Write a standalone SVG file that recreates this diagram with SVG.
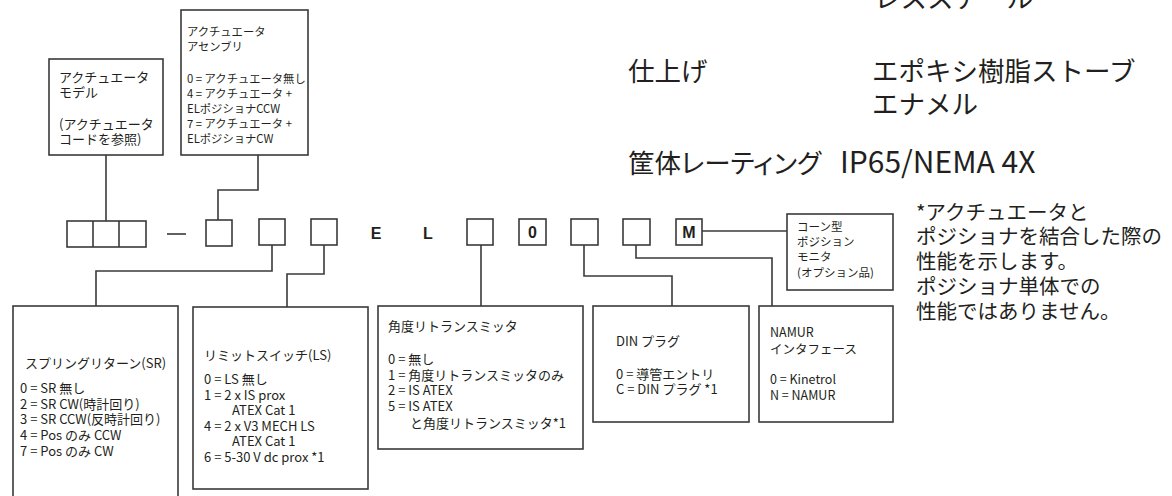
<svg xmlns="http://www.w3.org/2000/svg" width="1172" height="496" viewBox="0 0 1172 496">
<style>
text{font-family:"Noto Sans CJK JP","Liberation Sans",sans-serif;fill:#231f20}
.box{fill:#fff;stroke:#3a3a3a;stroke-width:1.6}
.cb{fill:#fff;stroke:#3a3a3a;stroke-width:1.6}
.ln{fill:none;stroke:#3a3a3a;stroke-width:1.6}
.s13{font-size:13px}
.s12{font-size:12.5px}
.s11{font-size:11.5px}
.sa{font-size:11.3px}
.big{font-size:26.5px}
.palt{font-feature-settings:"palt"}
.note{font-size:20.5px}
.code{font-family:"Liberation Sans",Arial,sans-serif;font-weight:bold;font-size:16px;text-anchor:middle}
</style>
<rect width="1172" height="496" fill="#fff"/>
<g id="connectors">
<path class="ln" d="M106 155V221"/>
<path class="ln" d="M258 155V190H218V220"/>
<path class="ln" d="M272 245V271H96V306"/>
<path class="ln" d="M324 245V274H287V307"/>
<path class="ln" d="M481 245V306"/>
<path class="ln" d="M584 245V276H672V306"/>
<path class="ln" d="M636 245V258H772V306"/>
<path class="ln" d="M702 231H787"/>
<path class="ln" d="M167 234H186"/>
</g>
<g id="code">
<rect class="cb" x="67" y="221" width="79" height="26"/>
<path class="ln" d="M93 221V247M119 221V247"/>
<rect class="cb" x="206" y="220" width="26" height="26"/>
<rect class="cb" x="259" y="219" width="26" height="26"/>
<rect class="cb" x="311" y="219" width="26" height="26"/>
<text class="code" x="376" y="239">E</text>
<text class="code" x="428" y="239">L</text>
<rect class="cb" x="467" y="219" width="26" height="26"/>
<rect class="cb" x="519" y="219" width="27" height="26"/>
<text class="code" x="532.5" y="238">0</text>
<rect class="cb" x="571" y="219" width="27" height="26"/>
<rect class="cb" x="623" y="219" width="27" height="26"/>
<rect class="cb" x="676" y="219" width="26" height="26"/>
<text class="code" x="689" y="238">M</text>
</g>
<g id="model">
<rect class="box" x="49" y="59" width="114" height="96"/>
<text class="s13"><tspan x="59" y="82">アクチュエータ</tspan><tspan x="59" y="97">モデル</tspan><tspan x="59" y="129">(アクチュエータ</tspan><tspan x="59" y="144">コードを参照)</tspan></text>
</g>
<g id="assembly">
<rect class="box" x="181" y="10" width="127" height="145"/>
<text class="sa"><tspan x="187" y="36">アクチュエータ</tspan><tspan x="187" y="51">アセンブリ</tspan><tspan x="187" y="83">0 = アクチュエータ無し</tspan><tspan x="187" y="98">4 = アクチュエータ +</tspan><tspan x="187" y="113">ELポジショナCCW</tspan><tspan x="187" y="128">7 = アクチュエータ +</tspan><tspan x="187" y="143">ELポジショナCW</tspan></text>
</g>
<g id="specs">
<text class="big" x="874" y="8">レススチール</text>
<text class="big" x="628" y="81">仕上げ</text>
<text class="big"><tspan x="872" y="81">エポキシ樹脂ストーブ</tspan><tspan x="872" y="114">エナメル</tspan></text>
<text class="big palt" x="628" y="173">筐体レーティング</text>
<text class="big" x="840" y="173" style="font-size:30px">IP65/NEMA 4X</text>
</g>
<g id="cone">
<rect class="box" x="787" y="214" width="106" height="76"/>
<text class="s11"><tspan x="797" y="231">コーン型</tspan><tspan x="797" y="246">ポジション</tspan><tspan x="797" y="261">モニタ</tspan><tspan x="797" y="277">(オプション品)</tspan></text>
</g>
<g id="footnote">
<text class="note"><tspan x="916" y="220">*アクチュエータと</tspan><tspan x="916" y="244">ポジショナを結合した際の</tspan><tspan x="916" y="269">性能を示します。</tspan><tspan x="916" y="294">ポジショナ単体での</tspan><tspan x="916" y="319">性能ではありません。</tspan></text>
</g>
<g id="spring">
<rect class="box" x="13" y="306" width="165" height="200"/>
<text class="s13"><tspan x="25" y="368">スプリングリターン(SR)</tspan><tspan x="20" y="393">0 = SR 無し</tspan><tspan x="20" y="409">2 = SR CW(時計回り)</tspan><tspan x="20" y="424">3 = SR CCW(反時計回り)</tspan><tspan x="20" y="440">4 = Pos のみ CCW</tspan><tspan x="20" y="456">7 = Pos のみ CW</tspan></text>
</g>
<g id="limit">
<rect class="box" x="193" y="307" width="175" height="182"/>
<text class="s13"><tspan x="204" y="360">リミットスイッチ(LS)</tspan><tspan x="204" y="384">0 = LS 無し</tspan><tspan x="204" y="400">1 = 2 x IS prox</tspan><tspan x="232" y="415">ATEX Cat 1</tspan><tspan x="204" y="431">4 = 2 x V3 MECH LS</tspan><tspan x="232" y="446">ATEX Cat 1</tspan><tspan x="204" y="462">6 = 5-30 V dc prox *1</tspan></text>
</g>
<g id="angle">
<rect class="box" x="378" y="306" width="205" height="143"/>
<text class="s13"><tspan x="388" y="331">角度リトランスミッタ</tspan><tspan x="388" y="364">0 = 無し</tspan><tspan x="388" y="380">1 = 角度リトランスミッタのみ</tspan><tspan x="388" y="395">2 = IS ATEX</tspan><tspan x="388" y="411">5 = IS ATEX</tspan><tspan x="410" y="428">と角度リトランスミッタ*1</tspan></text>
</g>
<g id="din">
<rect class="box" x="593" y="306" width="156" height="116"/>
<text class="s13"><tspan x="616" y="346">DIN プラグ</tspan><tspan x="616" y="379">0 = 導管エントリ</tspan><tspan x="616" y="394">C = DIN プラグ *1</tspan></text>
</g>
<g id="namur">
<rect class="box" x="759" y="306" width="134" height="116"/>
<text class="s12"><tspan x="770" y="337">NAMUR</tspan><tspan x="770" y="354">インタフェース</tspan><tspan x="770" y="384">0 = Kinetrol</tspan><tspan x="770" y="400">N = NAMUR</tspan></text>
</g>
</svg>
